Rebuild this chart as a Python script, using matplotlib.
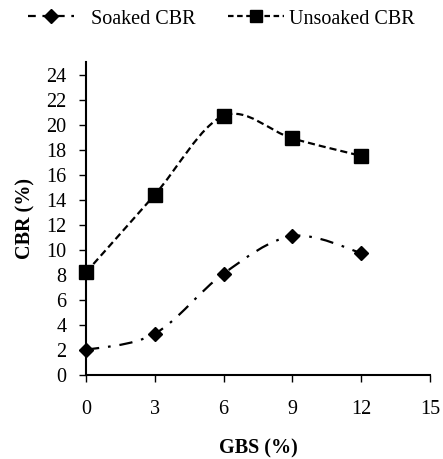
import matplotlib
matplotlib.use("Agg")
import matplotlib.pyplot as plt
import numpy as np
from matplotlib.path import Path
from matplotlib.patches import PathPatch
from matplotlib.lines import Line2D

gbs = [0, 3, 6, 9, 12]
soaked = [2.0, 3.3, 8.1, 11.1, 9.75]
unsoaked = [8.2, 14.4, 20.7, 18.9, 17.5]
xticks = [0, 3, 6, 9, 12, 15]
yticks = list(range(0, 25, 2))

plt.rcParams['font.family'] = ['Liberation Serif', 'DejaVu Serif']

def smooth_path(xs, ys):
    P = np.column_stack([xs, ys]).astype(float)
    n = len(P)
    verts = [P[0]]
    codes = [Path.MOVETO]
    for i in range(n - 1):
        p0 = P[i - 1] if i > 0 else P[i]
        p1 = P[i]
        p2 = P[i + 1]
        p3 = P[i + 2] if i + 2 < n else P[i + 1]
        c1 = p1 + (p2 - p0) / 6.0
        c2 = p2 - (p3 - p1) / 6.0
        verts += [c1, c2, p2]
        codes += [Path.CURVE4] * 3
    return Path(verts, codes)

fig = plt.figure(figsize=(4.43, 4.59), dpi=100)
ax = fig.add_axes([86/443, 84/459, 344/443, 313/459])

lw = 1.6
soak_dash = (0, (6, 4, 1.2, 4))
unsoak_dash = (0, (3.2, 1.8))
fs = 14.5

ax.add_patch(PathPatch(smooth_path(gbs, soaked), fill=False, lw=lw,
                       linestyle=soak_dash, edgecolor='black', zorder=2))
ax.add_patch(PathPatch(smooth_path(gbs, unsoaked), fill=False, lw=lw,
                       linestyle=unsoak_dash, edgecolor='black', zorder=2))
ax.plot(gbs, soaked, linestyle='none', marker='D', ms=7.5, color='black',
        clip_on=False, zorder=3)
ax.plot(gbs, unsoaked, linestyle='none', marker='s', ms=9.5, color='black',
        clip_on=False, zorder=3)

ax.set_xlim(0, 15)
ax.set_ylim(0, 25)
ax.set_xticks(xticks)
ax.set_yticks(yticks)
ax.tick_params(labelsize=fs, length=5, width=1, direction='out')
ax.tick_params(axis='y', pad=9)
ax.tick_params(axis='x', pad=13)
for s in ['top', 'right']:
    ax.spines[s].set_visible(False)
for s in ['left', 'bottom']:
    ax.spines[s].set_linewidth(1.5)

ax.set_xlabel('GBS (%)', fontsize=fs, fontweight='bold', labelpad=14)
ax.set_ylabel('CBR (%)', fontsize=fs, fontweight='bold', labelpad=8)

h1 = Line2D([], [], color='black', lw=lw, linestyle=(0, (3.5, 3)), marker='D', ms=7.5)
h2 = Line2D([], [], color='black', lw=lw, linestyle=(0, (2.5, 1.6)), marker='s', ms=8.5)
leg1 = fig.legend([h1], ['Soaked CBR'], loc='center left',
                  bbox_to_anchor=(28/443, 1 - 19/459), frameon=False, fontsize=fs,
                  handlelength=2.3, handletextpad=0.85, borderpad=0, borderaxespad=0)
leg2 = fig.legend([h2], ['Unsoaked CBR'], loc='center left',
                  bbox_to_anchor=(228/443, 1 - 19/459), frameon=False, fontsize=fs,
                  handlelength=2.8, handletextpad=0.25, borderpad=0, borderaxespad=0)

fig.savefig('out.png', dpi=100)
